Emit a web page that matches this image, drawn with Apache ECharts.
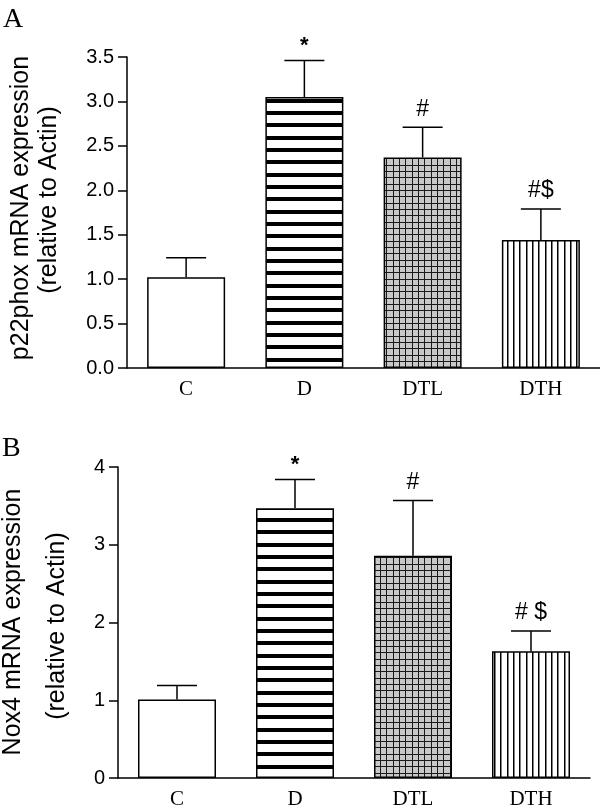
<!DOCTYPE html>
<html>
<head>
<meta charset="utf-8">
<script src="https://cdn.jsdelivr.net/npm/echarts@6/dist/echarts.min.js"></script>
<style>
html,body{margin:0;padding:0;background:#fff;}
#chart{width:600px;height:812px;}
</style>
</head>
<body>
<div id="chart"></div>
<script>
// ---- data ----
const categories = ['C', 'D', 'DTL', 'DTH'];
const p22Mean = [1.02, 3.05, 2.37, 1.44];
const p22Sem = [0.22, 0.41, 0.34, 0.35];
const p22Marks = ['', '*', '#', '#$'];
const nox4Mean = [1.01, 3.47, 2.86, 1.63];
const nox4Sem = [0.18, 0.37, 0.71, 0.26];
const nox4Marks = ['', '*', '#', '# $'];
const p22Ticks = { min: 0, max: 3.5, interval: 0.5 };
const nox4Ticks = { min: 0, max: 4, interval: 1 };

// ---- patterns ----
function mk(w, h) { const c = document.createElement('canvas'); c.width = w; c.height = h; return c; }
function patHStripes() {
  const c = mk(8, 37), g = c.getContext('2d');
  g.fillStyle = '#fff'; g.fillRect(0, 0, 8, 37);
  g.fillStyle = '#000'; [0, 12, 25].forEach(y => g.fillRect(0, y, 8, 4));
  return c;
}
function patGrid() {
  const c = mk(19, 19), g = c.getContext('2d');
  g.fillStyle = '#c8c8c8'; g.fillRect(0, 0, 19, 19);
  g.fillStyle = '#1a1a1a';
  [0, 6, 13].forEach(p => { g.fillRect(p, 0, 1, 19); g.fillRect(0, p, 19, 1); });
  return c;
}
function patVLines() {
  const c = mk(19, 8), g = c.getContext('2d');
  g.fillStyle = '#fff'; g.fillRect(0, 0, 19, 8);
  g.fillStyle = '#000'; [0, 6, 13].forEach(x => g.fillRect(x, 0, 1.5, 8));
  return c;
}
const fills = [
  '#ffffff',
  { image: patHStripes(), repeat: 'repeat' },
  { image: patGrid(), repeat: 'repeat' },
  { image: patVLines(), repeat: 'repeat' }
];

const SANS = '"Liberation Sans", Arial, sans-serif';
const SERIF = '"Liberation Serif", "Times New Roman", serif';

function errRenderer(marks) {
  return function (params, api) {
    const i = api.value(0), mean = api.value(1), sem = api.value(2);
    const p0 = api.coord([i, mean]);
    const p1 = api.coord([i, mean + sem]);
    const st = { stroke: '#000', lineWidth: 1.5 };
    const children = [
      { type: 'line', shape: { x1: p0[0], y1: p0[1], x2: p1[0], y2: p1[1] }, style: st },
      { type: 'line', shape: { x1: p1[0] - 20, y1: p1[1], x2: p1[0] + 20, y2: p1[1] }, style: st }
    ];
    const m = marks[i];
    if (m) {
      const isStar = m === '*';
      children.push({
        type: 'text', x: p1[0], y: p1[1] - (isStar ? 15 : 18),
        style: {
          text: m, fill: '#000',
          font: (isStar ? 'bold 22px ' : '23px ') + SANS,
          align: 'center', verticalAlign: 'middle',
          textAlign: 'center', textVerticalAlign: 'middle'
        }
      });
    }
    return { type: 'group', children: children };
  };
}

function xAxisCfg(gi) {
  return {
    type: 'category', gridIndex: gi, data: categories,
    axisLine: { lineStyle: { color: '#000', width: 1.5 } },
    axisTick: { show: false },
    axisLabel: { color: '#000', fontFamily: SERIF, fontSize: 21, margin: 11 }
  };
}
function yAxisCfg(gi, t, dec) {
  return {
    type: 'value', gridIndex: gi, min: t.min, max: t.max, interval: t.interval,
    axisLine: { show: true, lineStyle: { color: '#000', width: 1.5 } },
    axisTick: { show: true, length: 9, lineStyle: { color: '#000', width: 1.5 } },
    splitLine: { show: false },
    axisLabel: {
      color: '#000', fontFamily: SANS, fontSize: 20, margin: 13,
      formatter: v => v.toFixed(dec)
    }
  };
}
function barSeries(gi, mean) {
  return {
    type: 'bar', xAxisIndex: gi, yAxisIndex: gi, barWidth: 78,
    data: mean.map((v, i) => ({ value: v, itemStyle: { color: fills[i] } })),
    itemStyle: { borderColor: '#000', borderWidth: 1.5 },
    silent: true, animation: false
  };
}
function errSeries(gi, mean, sem, marks) {
  return {
    type: 'custom', xAxisIndex: gi, yAxisIndex: gi, z: 5,
    renderItem: errRenderer(marks),
    encode: { x: 0, y: 1 },
    data: mean.map((v, i) => [i, v, sem[i]]),
    silent: true, animation: false
  };
}

function vText(x, y, txt, size) {
  return {
    type: 'text', x: x, y: y, rotation: Math.PI / 2,
    style: {
      text: txt, fill: '#000', font: size + 'px ' + SANS,
      align: 'center', verticalAlign: 'middle',
      textAlign: 'center', textVerticalAlign: 'middle'
    }
  };
}

const chart = echarts.init(document.getElementById('chart'), null, { renderer: 'canvas' });
chart.setOption({
  backgroundColor: '#fff',
  animation: false,
  grid: [
    { left: 127, top: 57, width: 473, height: 311 },
    { left: 118, top: 467, width: 472, height: 311 }
  ],
  xAxis: [xAxisCfg(0), xAxisCfg(1)],
  yAxis: [yAxisCfg(0, p22Ticks, 1), yAxisCfg(1, nox4Ticks, 0)],
  series: [
    barSeries(0, p22Mean), errSeries(0, p22Mean, p22Sem, p22Marks),
    barSeries(1, nox4Mean), errSeries(1, nox4Mean, nox4Sem, nox4Marks)
  ],
  graphic: [
    { type: 'text', left: 3, top: 6, style: { text: 'A', fill: '#000', font: '28px ' + SERIF } },
    { type: 'text', left: 2, top: 435, style: { text: 'B', fill: '#000', font: '28px ' + SERIF } },
    vText(21, 208, 'p22phox mRNA expression', 25),
    vText(49, 200, '(relative to Actin)', 25),
    vText(13, 622, 'Nox4 mRNA expression', 25),
    vText(57, 626, '(relative to Actin)', 25)
  ]
});
</script>
</body>
</html>
